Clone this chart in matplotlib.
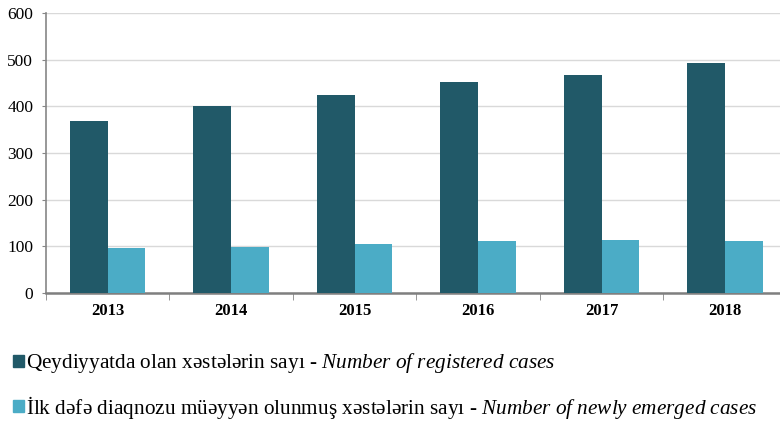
import numpy as np
import matplotlib.pyplot as plt
from matplotlib.patches import Patch

years = ["2013", "2014", "2015", "2016", "2017", "2018"]
registered = [369, 400, 424, 453, 467, 494]
newly = [96, 99, 105, 111, 113, 111]

label_reg = "Qeydiyyatda olan xəstələrin sayı - $\\it{Number\\ of\\ registered\\ cases}$"
label_new = "İlk dəfə diaqnozu müəyyən olunmuş xəstələrin sayı - $\\it{Number\\ of\\ newly\\ emerged\\ cases}$"

plt.rcParams['font.family'] = ['Liberation Serif', 'DejaVu Serif']
plt.rcParams['mathtext.fontset'] = 'custom'
plt.rcParams['mathtext.rm'] = 'Liberation Serif'
plt.rcParams['mathtext.it'] = 'Liberation Serif:italic'

dark = '#215968'
light = '#4bacc6'

fig = plt.figure(figsize=(7.8, 4.21), dpi=100)
ax = fig.add_axes([0.0587, 0.304, 0.950, 0.665])

x = np.arange(len(years))
w = 0.305
ax.bar(x - w / 2, registered, w, color=dark, zorder=3)
ax.bar(x + w / 2, newly, w, color=light, zorder=3)

ax.set_xlim(-0.5, 5.5)
ax.set_ylim(0, 600)
ax.set_yticks(range(0, 601, 100))
ax.grid(axis='y', color='#d9d9d9', lw=1, zorder=0)

ax.set_xticks(x)
ax.set_xticklabels(years, fontweight='bold', fontsize=12)
ax.set_xticks(np.arange(-0.5, 5.6, 1), minor=True)
ax.tick_params(axis='x', which='major', length=0, pad=7)
ax.tick_params(axis='x', which='minor', length=5, color='#868686', direction='out')
ax.tick_params(axis='y', length=3, color='#868686', labelsize=12.5, pad=6)

for s in ['top', 'right']:
    ax.spines[s].set_visible(False)
ax.spines['left'].set_color('#868686')
ax.spines['bottom'].set_color('#7f7f7f')
ax.spines['bottom'].set_linewidth(1.8)
ax.spines['left'].set_linewidth(1.2)

handles = [Patch(color=dark), Patch(color=light)]
fig.legend(handles, [label_reg, label_new], loc='upper left',
           bbox_to_anchor=(0.006, 0.186), frameon=False, fontsize=15.3,
           handlelength=0.5, handleheight=0.5, handletextpad=0.1,
           labelspacing=0.88, borderaxespad=0)

fig.savefig('out.png', dpi=100)
